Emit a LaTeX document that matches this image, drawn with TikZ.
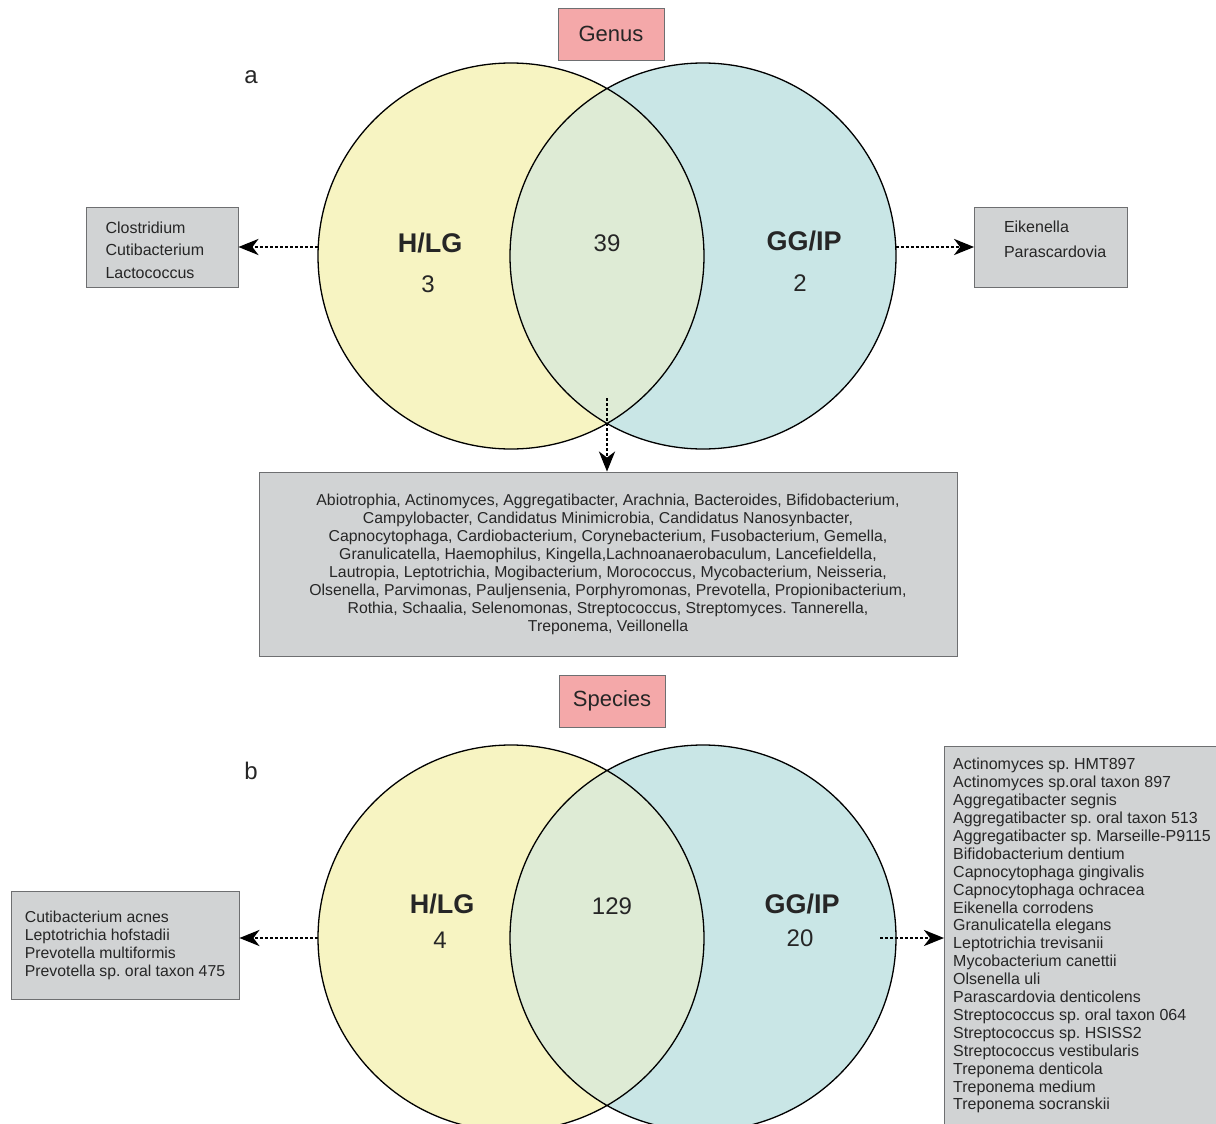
\documentclass[tikz,border=0pt]{standalone}
\usepackage{fontspec}
\setmainfont{Liberation Sans}
\usetikzlibrary{arrows.meta,positioning}
\definecolor{vyellow}{RGB}{247,244,194}
\definecolor{vblue}{RGB}{201,230,230}
\definecolor{vboth}{RGB}{222,235,213}
\definecolor{boxgray}{RGB}{209,211,212}
\definecolor{boxline}{RGB}{110,111,113}
\definecolor{tagpink}{RGB}{244,168,169}
\newcommand{\fs}[2]{\fontsize{#1}{#2}\selectfont}
\frenchspacing
\tikzset{
  venn/.style = {circle, minimum size=386pt, inner sep=0pt},
  tag/.style = {draw=boxline, fill=tagpink, line width=0.8pt, minimum width=106pt, minimum height=52pt, font=\fs{22pt}{26pt}},
  listbox/.style = {draw=boxline, fill=boxgray, line width=0.8pt},
  setname/.style = {font=\bfseries\fs{27pt}{32pt}},
  count/.style = {font=\fs{24pt}{28pt}},
  dots/.style = {dash pattern=on 2.6pt off 2.4pt, line width=2.8pt, -{Stealth[length=20pt,width=16pt,inset=6pt]}}
}
\begin{document}
\begin{tikzpicture}[x=1pt, y=-1pt, text=black!85]
  \useasboundingbox (0,0) rectangle (1216,1124);

  \node[tag] (genus) at (611,34) {Genus};
  \node[count] (a) at (251,77) {a};
  \node[venn, fill=vyellow] (hlgA) at (511,256) {};
  \node[venn, fill=vblue] (ggA) at (703,256) {};
  \begin{scope}
    \clip (hlgA.center) circle[radius=193pt];
    \fill[vboth] (ggA.center) circle[radius=193pt];
  \end{scope}
  \draw[line width=1.3pt] (hlgA.center) circle[radius=193pt] (ggA.center) circle[radius=193pt];
  \node[setname] (hlgAname) at (430,243) {H/LG};
  \node[count] (hlgAn) at (428,284) {3};
  \node[count] (bothAn) at (607,243) {39};
  \node[setname] (ggAname) at (804,241) {GG/IP};
  \node[count] (ggAn) at (800,283) {2};

  \node[listbox, minimum width=152pt, minimum height=80pt] (genL) at (162,247) {};
  \node[align=left, text width=113pt, font=\fs{16pt}{22.5pt}] (genLtxt) at (162,250)
        {Clostridium\\Cutibacterium\\Lactococcus};
  \node[listbox, minimum width=153pt, minimum height=80pt] (genR) at (1051,247) {};
  \node[align=left, text width=104pt, font=\fs{16pt}{25pt}] (genRtxt) at (1056,239)
        {Eikenella\\Parascardovia};
  \node[listbox, minimum width=698pt, minimum height=184pt, align=center,
        font=\fs{15.8pt}{18pt}] (genM) at (608,564)
        {Abiotrophia, Actinomyces, Aggregatibacter, Arachnia, Bacteroides, Bifidobacterium,\\
         Campylobacter, Candidatus Minimicrobia, Candidatus Nanosynbacter,\\
         Capnocytophaga, Cardiobacterium, Corynebacterium, Fusobacterium, Gemella,\\
         Granulicatella, Haemophilus, Kingella,Lachnoanaerobaculum, Lancefieldella,\\
         Lautropia, Leptotrichia, Mogibacterium, Morococcus, Mycobacterium, Neisseria,\\
         Olsenella, Parvimonas, Pauljensenia, Porphyromonas, Prevotella, Propionibacterium,\\
         Rothia, Schaalia, Selenomonas, Streptococcus, Streptomyces. Tannerella,\\
         Treponema, Veillonella};
  \coordinate (midA) at (607,398);

  \draw[dots] (hlgA.west |- genL.east) -- (genL.east);
  \draw[dots] (ggA.east |- genR.west) -- (genR.west);
  \draw[dots] (midA) -- (midA |- genM.north);

  \node[tag] (species) at (612,701) {Species};
  \node[count] (b) at (251,771) {b};
  \node[venn, fill=vyellow] (hlgB) at (511,938) {};
  \node[venn, fill=vblue] (ggB) at (703,938) {};
  \begin{scope}
    \clip (hlgB.center) circle[radius=193pt];
    \fill[vboth] (ggB.center) circle[radius=193pt];
  \end{scope}
  \draw[line width=1.3pt] (hlgB.center) circle[radius=193pt] (ggB.center) circle[radius=193pt];
  \node[setname] (hlgBname) at (442,904) {H/LG};
  \node[count] (hlgBn) at (440,940) {4};
  \node[count] (bothBn) at (612,906) {129};
  \node[setname] (ggBname) at (802,904) {GG/IP};
  \node[count] (ggBn) at (800,938) {20};

  \node[listbox, minimum width=228pt, minimum height=108pt] (spL) at (125,945) {};
  \node[align=left, font=\fs{15.8pt}{18pt}] (spLtxt) at (125,945)
        {Cutibacterium acnes\\Leptotrichia hofstadii\\Prevotella multiformis\\Prevotella sp. oral taxon 475};
  \fill[boxgray, draw=boxline, line width=0.8pt] (944,746) rectangle (1240,1140);
  \node[anchor=north west, inner xsep=9pt, inner ysep=12pt, align=left,
        font=\fs{16pt}{17.9pt}] (spR) at (944,746)
        {Actinomyces sp. HMT897\\Actinomyces sp.oral taxon 897\\Aggregatibacter segnis\\
         Aggregatibacter sp. oral taxon 513\\Aggregatibacter sp. Marseille-P9115\\
         Bifidobacterium dentium\\Capnocytophaga gingivalis\\Capnocytophaga ochracea\\
         Eikenella corrodens\\Granulicatella elegans\\Leptotrichia trevisanii\\
         Mycobacterium canettii\\Olsenella uli\\Parascardovia denticolens\\
         Streptococcus sp. oral taxon 064\\Streptococcus sp. HSISS2\\
         Streptococcus vestibularis\\Treponema denticola\\Treponema medium\\
         Treponema socranskii};
  \coordinate (ggBout) at (880,938);

  \draw[dots] (hlgB.west) -- (hlgB.west -| spL.east);
  \draw[dots] (ggBout) -- (ggBout -| spR.west);
\end{tikzpicture}
\end{document}
